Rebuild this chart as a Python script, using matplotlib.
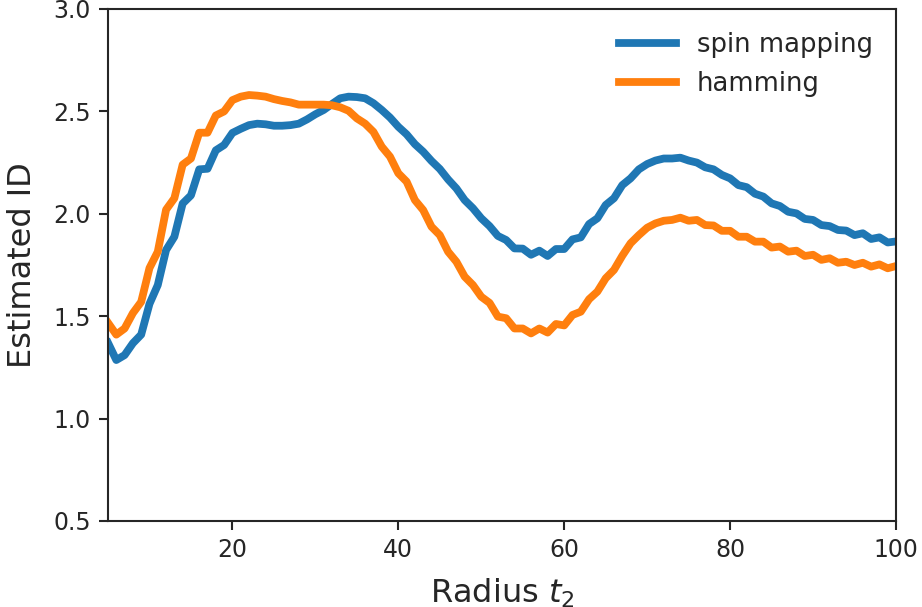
import matplotlib
matplotlib.use('Agg')
import matplotlib.pyplot as plt

# radius values and estimated intrinsic dimension for both metrics
radius = list(range(5, 101))

spin_mapping = [
    1.37, 1.286, 1.31, 1.368, 1.41, 1.56, 1.652, 1.823, 1.888, 2.05,
    2.09, 2.217, 2.22, 2.31, 2.336, 2.395, 2.415, 2.433, 2.44, 2.437,
    2.43, 2.43, 2.433, 2.44, 2.461, 2.486, 2.507, 2.536, 2.564, 2.572,
    2.57, 2.564, 2.54, 2.507, 2.47, 2.425, 2.388, 2.34, 2.303, 2.258,
    2.219, 2.168, 2.124, 2.067, 2.027, 1.978, 1.94, 1.892, 1.872, 1.831,
    1.83, 1.80, 1.82, 1.794, 1.828, 1.828, 1.875, 1.885, 1.95, 1.978,
    2.043, 2.076, 2.14, 2.173, 2.217, 2.243, 2.26, 2.27, 2.27, 2.274,
    2.26, 2.25, 2.227, 2.217, 2.19, 2.173, 2.14, 2.13, 2.098, 2.084,
    2.051, 2.038, 2.01, 2.002, 1.975, 1.97, 1.945, 1.94, 1.921, 1.918,
    1.896, 1.905, 1.877, 1.885, 1.86, 1.865,
]

hamming = [
    1.468, 1.41, 1.44, 1.515, 1.57, 1.735, 1.815, 2.02, 2.076, 2.24,
    2.27, 2.396, 2.396, 2.48, 2.50, 2.555, 2.572, 2.58, 2.577, 2.572,
    2.56, 2.551, 2.544, 2.533, 2.533, 2.533, 2.533, 2.53, 2.52, 2.503,
    2.466, 2.44, 2.40, 2.328, 2.279, 2.198, 2.157, 2.067, 2.018, 1.937,
    1.896, 1.815, 1.766, 1.693, 1.652, 1.595, 1.565, 1.498, 1.49, 1.44,
    1.44, 1.416, 1.44, 1.42, 1.462, 1.455, 1.506, 1.522, 1.583, 1.62,
    1.685, 1.726, 1.795, 1.856, 1.896, 1.932, 1.953, 1.966, 1.97, 1.981,
    1.966, 1.97, 1.945, 1.943, 1.917, 1.917, 1.888, 1.888, 1.864, 1.864,
    1.835, 1.84, 1.815, 1.82, 1.794, 1.80, 1.775, 1.783, 1.761, 1.766,
    1.75, 1.761, 1.742, 1.753, 1.734, 1.745,
]

dark = '#262626'
plt.rcParams['font.family'] = 'DejaVu Sans'
plt.rcParams['mathtext.fontset'] = 'dejavusans'

fig = plt.figure(figsize=(9.22, 6.07), dpi=100)
ax = fig.add_axes([108 / 922, 1 - 521 / 607, 788 / 922, 512 / 607])

ax.plot(radius, spin_mapping, color='#1f77b4', lw=5.6, label='spin mapping')
ax.plot(radius, hamming, color='#ff7f0e', lw=5.6, label='hamming')

ax.set_xlim(5, 100)
ax.set_ylim(0.5, 3.0)
ax.set_xticks([20, 40, 60, 80, 100])
ax.set_yticks([0.5, 1.0, 1.5, 2.0, 2.5, 3.0])

ax.set_xlabel('Radius $t_2$', fontsize=23, color=dark, labelpad=10)
ax.set_ylabel('Estimated ID', fontsize=23, color=dark, labelpad=11)
ax.tick_params(labelsize=17, colors=dark, length=6.5, width=1.5, pad=6)
for sp in ax.spines.values():
    sp.set_linewidth(1.5)
    sp.set_color(dark)

leg = ax.legend(loc='upper right', frameon=False, fontsize=18.6,
                handlelength=2.2, borderaxespad=0.5)
for t in leg.get_texts():
    t.set_color(dark)

plt.savefig('out.png', dpi=100)
